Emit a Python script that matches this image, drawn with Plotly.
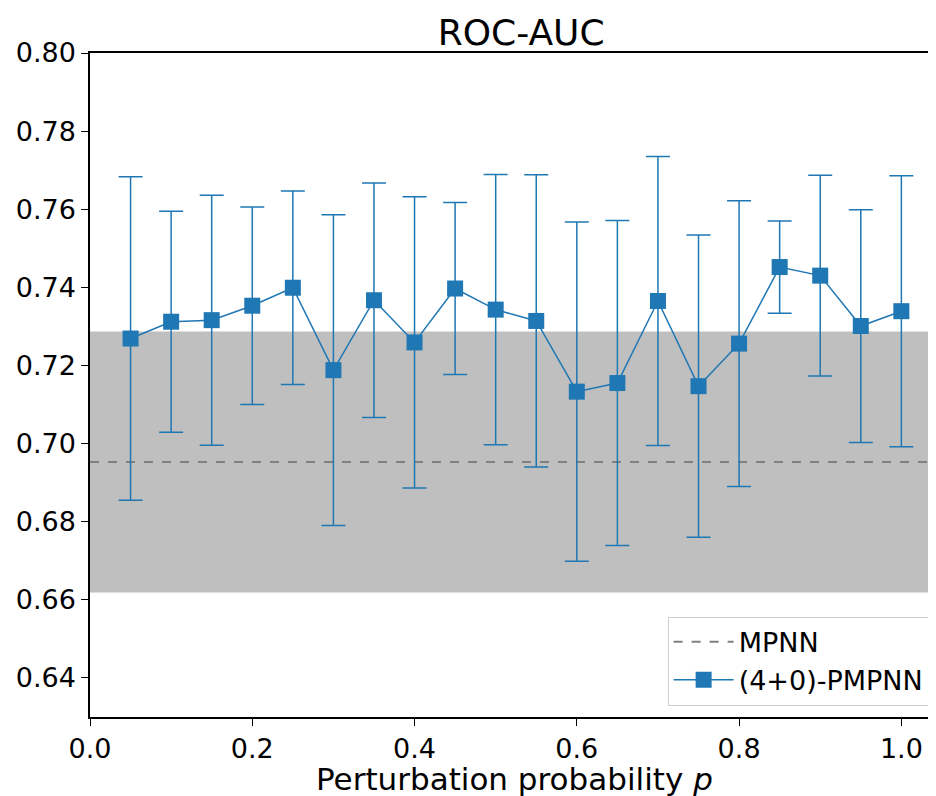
import plotly.graph_objects as go

# perturbation probabilities
p_values = [0.05, 0.10, 0.15, 0.20, 0.25, 0.30, 0.35, 0.40, 0.45, 0.50,
            0.55, 0.60, 0.65, 0.70, 0.75, 0.80, 0.85, 0.90, 0.95, 1.00]

# (4+0)-PMPNN ROC-AUC mean and std
pmpnn_mean = [0.7269, 0.7312, 0.7316, 0.7353, 0.7399, 0.7188, 0.7367, 0.7259, 0.7397, 0.7343,
              0.7314, 0.7133, 0.7155, 0.7365, 0.7147, 0.7256, 0.7452, 0.7430, 0.7301, 0.7339]
pmpnn_std = [0.0414, 0.0283, 0.0320, 0.0253, 0.0248, 0.0398, 0.0300, 0.0373, 0.0220, 0.0346,
             0.0374, 0.0434, 0.0416, 0.0370, 0.0387, 0.0366, 0.0118, 0.0257, 0.0298, 0.0347]

# MPNN baseline
mpnn_mean = 0.6953
mpnn_std = 0.0334

x_range = [0.0, 1.039]
blue = "#1f77b4"

fig = go.Figure()

# baseline std band
fig.add_shape(
    type="rect", xref="paper", x0=0, x1=1, yref="y",
    y0=mpnn_mean - mpnn_std, y1=mpnn_mean + mpnn_std,
    fillcolor="#bfbfbf", line_width=0, layer="below",
)

fig.add_trace(go.Scatter(
    x=x_range, y=[mpnn_mean, mpnn_mean], mode="lines", name="MPNN",
    line=dict(color="#808080", width=2, dash="dash"),
))

fig.add_trace(go.Scatter(
    x=p_values, y=pmpnn_mean, mode="lines+markers", name="(4+0)-PMPNN",
    line=dict(color=blue, width=1.5),
    marker=dict(symbol="square", size=16, color=blue),
    error_y=dict(type="data", array=pmpnn_std, visible=True,
                 color=blue, thickness=1.5, width=12),
))

# page body has an 8px margin, so the figure is a bit smaller than the window
fig.update_layout(
    width=928, height=788,
    margin=dict(l=82, r=1, t=45, b=79),
    plot_bgcolor="white", paper_bgcolor="white",
    font=dict(family="DejaVu Sans", size=27, color="black"),
    title=dict(text="ROC-AUC", x=0.553, xanchor="center", y=0.9695, yanchor="middle",
               font=dict(size=36)),
    legend=dict(x=0.996, y=0.017, xanchor="right", yanchor="bottom",
                bgcolor="white", bordercolor="#d0d0d0", borderwidth=1,
                font=dict(size=27), itemwidth=60),
    showlegend=True,
)

# x label as an annotation so it sits just under the tick labels
fig.add_annotation(
    text="Perturbation probability <i>p</i>", xref="paper", yref="paper",
    x=0.503, y=-0.063, xanchor="center", yanchor="top", showarrow=False,
    font=dict(size=31),
)

fig.update_xaxes(
    range=x_range, tickvals=[0, 0.2, 0.4, 0.6, 0.8, 1.0], tickformat=".1f",
    showgrid=False, zeroline=False, showline=True, linecolor="black", linewidth=1.5,
    mirror=True, ticks="outside", ticklen=7, tickcolor="black",
)
fig.update_yaxes(
    range=[0.63, 0.80], dtick=0.02, tickformat=".2f",
    showgrid=False, zeroline=False, showline=True, linecolor="black", linewidth=1.5,
    mirror=True, ticks="outside", ticklen=7, tickcolor="black",
)

fig.write_html("out.html")
